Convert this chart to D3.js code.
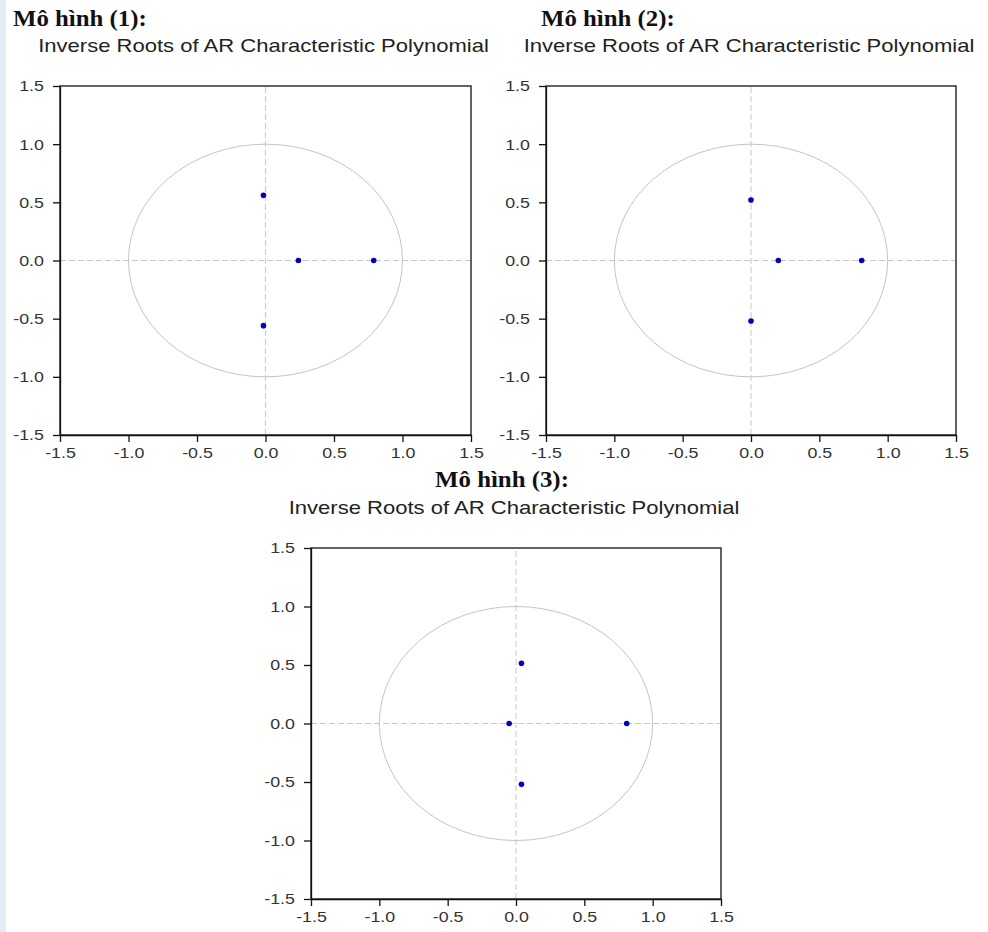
<!DOCTYPE html>
<html>
<head>
<meta charset="utf-8">
<script src="https://cdn.jsdelivr.net/npm/d3@7"></script>
<style>
  html, body { margin: 0; padding: 0; background: #ffffff; }
  svg { display: block; }
</style>
</head>
<body>
<svg id="chart" width="988" height="932"></svg>
<script>
// ---------------- data ----------------
const panelTitles = ["Mô hình (1):", "Mô hình (2):", "Mô hình (3):"];
const subtitle = "Inverse Roots of AR Characteristic Polynomial";
const tickValues = [-1.5, -1.0, -0.5, 0.0, 0.5, 1.0, 1.5];
const tickLabels = ["-1.5", "-1.0", "-0.5", "0.0", "0.5", "1.0", "1.5"];
const axisDomain = [-1.5, 1.5];
const unitRadius = 1;

const model1Real = [-0.015, -0.015, 0.24, 0.79];
const model1Imag = [0.56, -0.56, 0.0, 0.0];
const model2Real = [0.0, 0.0, 0.20, 0.81];
const model2Imag = [0.52, -0.52, 0.0, 0.0];
const model3Real = [0.04, 0.04, -0.05, 0.81];
const model3Imag = [0.515, -0.52, 0.0, 0.0];

// ---------------- layout ----------------
const svg = d3.select("#chart");
const SX = 1.15;      // horizontal stretch of tick text / titles
const SX_SUB = 1.26;  // horizontal stretch of subtitles

svg.append("rect").attr("x", 0).attr("y", 0).attr("width", 6).attr("height", 932).attr("fill", "#e6eaf6");

const panels = [
  { re: model1Real, im: model1Imag, x0: 60,  x1: 471, y0: 86,  y1: 435, titleX: 13,  titleY: 26,  titleAnchor: "start",  subY: 52 },
  { re: model2Real, im: model2Imag, x0: 546, x1: 956, y0: 86,  y1: 435, titleX: 541, titleY: 26,  titleAnchor: "start",  subY: 52 },
  { re: model3Real, im: model3Imag, x0: 311, x1: 721, y0: 548, y1: 899, titleX: 502, titleY: 487, titleAnchor: "middle", subY: 514 }
];

function stretchedText(g, x, y, str, sx) {
  return g.append("text")
    .attr("transform", `translate(${x},${y}) scale(${sx},1)`)
    .text(str);
}

panels.forEach((p, i) => {
  const g = svg.append("g");
  const x = d3.scaleLinear().domain(axisDomain).range([p.x0, p.x1]);
  const y = d3.scaleLinear().domain(axisDomain).range([p.y1, p.y0]);

  // titles
  stretchedText(g, p.titleX, p.titleY, panelTitles[i], 1.08)
    .attr("font-family", "'Liberation Serif', 'Times New Roman', serif")
    .attr("font-weight", "bold")
    .attr("font-size", 23)
    .attr("text-anchor", p.titleAnchor)
    .attr("fill", "#111");

  stretchedText(g, (p.x0 + p.x1) / 2 - 2, p.subY, subtitle, SX_SUB)
    .attr("font-family", "'Liberation Sans', Arial, sans-serif")
    .attr("font-size", 17.5)
    .attr("text-anchor", "middle")
    .attr("fill", "#222");

  // zero lines (dashed)
  g.append("line")
    .attr("x1", x(axisDomain[0])).attr("x2", x(axisDomain[1]))
    .attr("y1", y(0)).attr("y2", y(0))
    .attr("stroke", "#c8c8c8").attr("stroke-width", 1).attr("stroke-dasharray", "6,3");
  g.append("line")
    .attr("x1", x(0)).attr("x2", x(0))
    .attr("y1", y(axisDomain[0])).attr("y2", y(axisDomain[1]))
    .attr("stroke", "#c8c8c8").attr("stroke-width", 1).attr("stroke-dasharray", "6,3");

  // unit circle
  g.append("ellipse")
    .attr("cx", x(0)).attr("cy", y(0))
    .attr("rx", x(unitRadius) - x(0)).attr("ry", y(0) - y(unitRadius))
    .attr("fill", "none").attr("stroke", "#c4c4c4").attr("stroke-width", 1);

  // frame
  g.append("rect")
    .attr("x", p.x0).attr("y", p.y0)
    .attr("width", p.x1 - p.x0).attr("height", p.y1 - p.y0)
    .attr("fill", "none").attr("stroke", "#111").attr("stroke-width", 1.3);

  // axes
  const fmt = (d) => tickLabels[tickValues.indexOf(d)];
  const ax = g.append("g").attr("transform", `translate(0,${p.y1})`)
    .call(d3.axisBottom(x).tickValues(tickValues).tickFormat(fmt).tickSize(7).tickPadding(5).tickSizeOuter(0));
  const ay = g.append("g").attr("transform", `translate(${p.x0},0)`)
    .call(d3.axisLeft(y).tickValues(tickValues).tickFormat(fmt).tickSize(7).tickPadding(7).tickSizeOuter(0));
  [ax, ay].forEach(a => {
    a.select(".domain").attr("stroke", "#111").attr("stroke-width", 1.3);
    a.selectAll(".tick line").attr("stroke", "#111").attr("stroke-width", 1.3);
    a.selectAll(".tick text")
      .attr("font-family", "'Liberation Sans', Arial, sans-serif")
      .attr("font-size", 15.5)
      .attr("fill", "#333")
      .attr("transform", `scale(${SX},1)`);
  });

  // roots
  const pts = p.re.map((r, k) => ({ re: r, im: p.im[k] }));
  g.selectAll("circle.root").data(pts).enter().append("circle")
    .attr("class", "root")
    .attr("cx", d => x(d.re)).attr("cy", d => y(d.im))
    .attr("r", 2.8)
    .attr("fill", "#0000b8");
});
</script>
</body>
</html>
